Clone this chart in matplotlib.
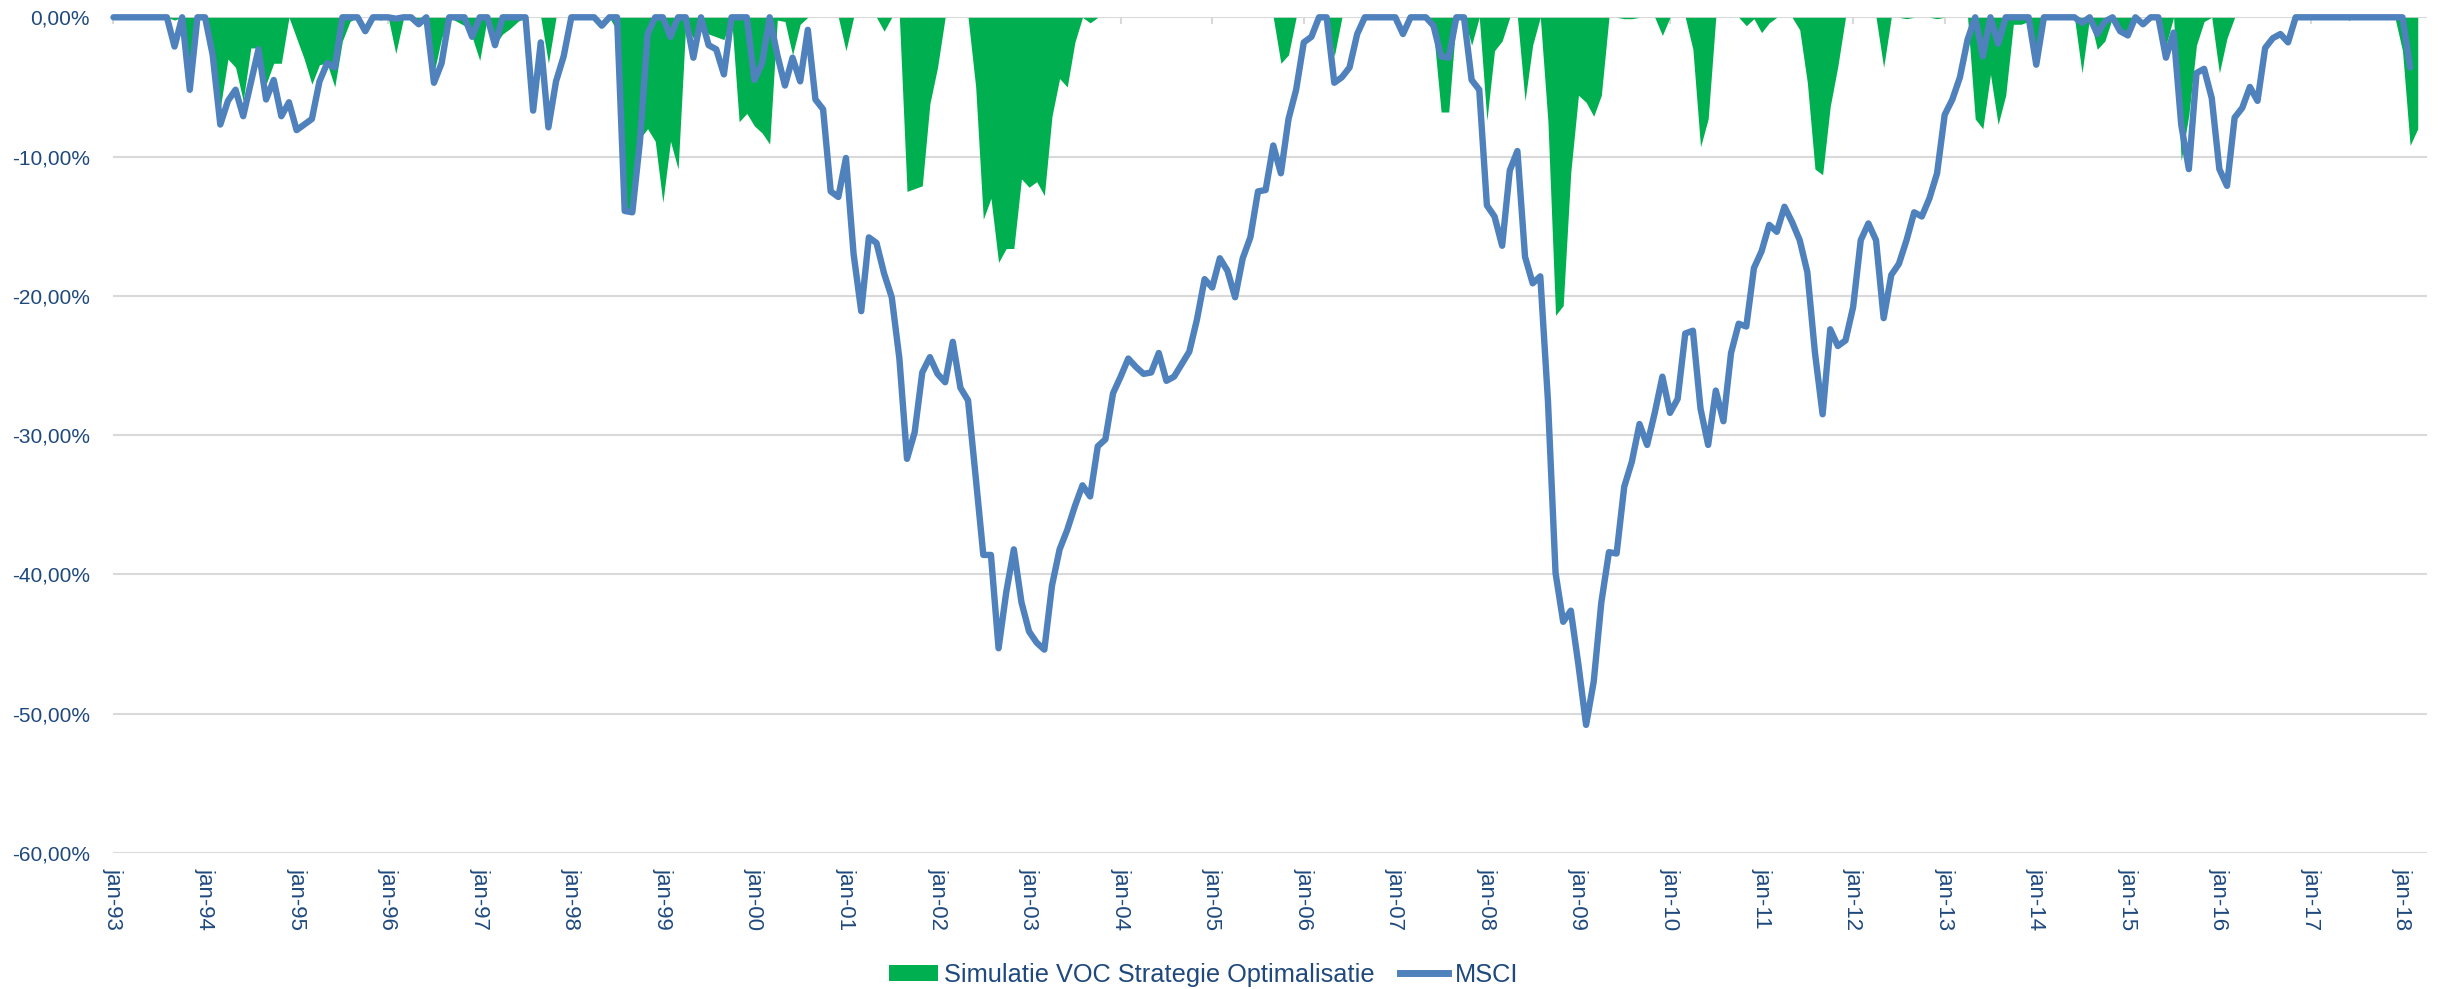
import matplotlib
matplotlib.use("Agg")
import matplotlib.pyplot as plt
from matplotlib import font_manager
from matplotlib.patches import Patch
from matplotlib.lines import Line2D
import numpy as np

# Drawdown per maand, jan-93 .. mrt-18 (in %)
msci = [
    0, 0, 0, 0, 0, 0, 0, 0, -2.1, 0, -5.2, 0,                                   # 1993
    0, -2.7, -7.7, -6.0, -5.2, -7.1, -4.7, -2.3, -5.9, -4.5, -7.1, -6.1,        # 1994
    -8.1, -7.7, -7.3, -4.6, -3.3, -3.6, 0, 0, 0, -1.0, 0, 0,                    # 1995
    0, -0.1, 0, 0, -0.5, 0, -4.7, -3.3, 0, 0, 0, -1.4,                          # 1996
    0, 0, -2.0, 0, 0, 0, 0, -6.7, -1.8, -7.9, -4.6, -2.8,                       # 1997
    0, 0, 0, 0, -0.6, 0, 0, -13.9, -14.0, -8.9, -1.2, 0,                        # 1998
    0, -1.4, 0, 0, -2.9, 0, -2.0, -2.3, -4.1, 0, 0, 0,                          # 1999
    -4.5, -3.3, 0, -2.7, -4.9, -2.9, -4.6, -0.9, -5.9, -6.6, -12.5, -12.9,      # 2000
    -10.1, -17.0, -21.1, -15.8, -16.2, -18.4, -20.1, -24.5, -31.7, -29.8, -25.5, -24.4,  # 2001
    -25.6, -26.2, -23.3, -26.6, -27.5, -33.0, -38.6, -38.6, -45.3, -41.3, -38.2, -42.0,  # 2002
    -44.1, -44.9, -45.4, -40.8, -38.2, -36.8, -35.1, -33.6, -34.4, -30.8, -30.3, -27.0,  # 2003
    -25.8, -24.5, -25.1, -25.6, -25.5, -24.1, -26.1, -25.8, -24.9, -24.0, -21.7, -18.8,  # 2004
    -19.4, -17.3, -18.2, -20.1, -17.3, -15.8, -12.5, -12.4, -9.2, -11.2, -7.3, -5.2,     # 2005
    -1.8, -1.4, 0, 0, -4.7, -4.3, -3.6, -1.2, 0, 0, 0, 0,                       # 2006
    0, -1.2, 0, 0, 0, -0.6, -2.8, -2.9, 0, 0, -4.5, -5.2,                       # 2007
    -13.5, -14.3, -16.4, -11.0, -9.6, -17.2, -19.1, -18.6, -27.5, -39.9, -43.4, -42.6,   # 2008
    -46.5, -50.8, -47.7, -42.0, -38.4, -38.5, -33.7, -31.9, -29.2, -30.7, -28.4, -25.8,  # 2009
    -28.4, -27.4, -22.7, -22.5, -28.1, -30.7, -26.8, -29.0, -24.1, -22.0, -22.2, -18.0,  # 2010
    -16.8, -14.9, -15.4, -13.6, -14.7, -16.0, -18.3, -24.1, -28.5, -22.4, -23.6, -23.2,  # 2011
    -20.8, -16.0, -14.8, -16.0, -21.6, -18.5, -17.7, -16.0, -14.0, -14.3, -13.0, -11.2,  # 2012
    -7.0, -5.9, -4.3, -1.6, 0, -2.8, 0, -1.9, 0, 0, 0, 0,                       # 2013
    -3.4, 0, 0, 0, 0, 0, -0.4, 0, -1.2, -0.3, 0, -1.0,                          # 2014
    -1.3, 0, -0.5, 0, 0, -2.9, -1.1, -7.7, -10.9, -4.0, -3.7, -5.8,             # 2015
    -10.9, -12.1, -7.2, -6.5, -5.0, -6.0, -2.2, -1.5, -1.2, -1.8, 0, 0,         # 2016
    0, 0, 0, 0, 0, 0, 0, 0, 0, 0, 0, 0,                                         # 2017
    0, -3.6,                                                                    # 2018
]

voc = [
    0, 0, 0, 0, 0, 0, 0, 0, -0.2, 0, -5.5, 0,                                   # 1993
    0, -2.5, -6.5, -3.0, -3.6, -6.0, -2.2, -2.2, -4.8, -3.3, -3.3, 0,           # 1994
    -1.5, -3.0, -4.8, -3.4, -3.3, -5.0, -1.7, -0.3, 0, 0, 0, -0.2,              # 1995
    0, -2.6, -0.1, 0, -0.6, 0, -4.0, -1.5, 0, -0.3, -0.6, -1.4,                 # 1996
    -3.1, 0, -2.0, -1.2, -0.8, -0.3, 0, 0, 0, -3.3, 0, 0,                       # 1997
    0, 0, 0, 0, 0, 0, -1.0, -14.1, -14.0, -8.7, -8.0, -8.9,                     # 1998
    -13.3, -8.9, -10.9, -0.5, -1.5, -0.3, -1.2, -1.4, -1.6, 0, -7.5, -6.9,      # 1999
    -7.8, -8.3, -9.1, -0.2, -0.3, -2.7, -0.5, 0, 0, 0, 0, 0,                    # 2000
    -2.4, 0, 0, 0, 0, -1.0, 0, 0, -12.5, -12.3, -12.1, -6.2,                    # 2001
    -3.6, 0, 0, 0, 0, -5.0, -14.5, -13.0, -17.6, -16.6, -16.6, -11.6,           # 2002
    -12.2, -11.8, -12.8, -7.1, -4.4, -5.0, -1.8, 0, -0.4, 0, 0, 0,              # 2003
    0, 0, 0, 0, 0, 0, 0, 0, 0, 0, 0, 0,                                         # 2004
    0, 0, 0, 0, 0, 0, 0, 0, 0, -3.3, -2.7, 0,                                   # 2005
    0, 0, 0, 0, -2.8, 0, 0, 0, 0, 0, 0, 0,                                      # 2006
    0, 0, 0, 0, 0, -1.0, -6.8, -6.8, 0, 0, -2.0, 0,                             # 2007
    -7.4, -2.4, -1.7, 0, 0, -6.0, -2.0, 0, -7.5, -21.4, -20.7, -11.1,           # 2008
    -5.6, -6.1, -7.1, -5.6, 0, 0, -0.1, -0.1, 0, 0, 0, -1.3,                    # 2009
    0, 0, 0, -2.3, -9.3, -7.3, 0, 0, 0, 0, -0.6, -0.1,                          # 2010
    -1.1, -0.4, 0, 0, 0, -0.9, -4.7, -10.9, -11.3, -6.4, -3.5, 0,               # 2011
    0, 0, 0, 0, -3.6, 0, 0, -0.1, 0, 0, 0, -0.1,                                # 2012
    0, 0, 0, 0, -7.3, -8.0, -4.1, -7.7, -5.6, -0.5, -0.5, -0.3,                 # 2013
    -3.2, 0, 0, 0, 0, 0, -4.0, 0, -2.3, -1.7, 0, -0.8,                          # 2014
    -1.2, 0, 0, 0, 0, -2.0, 0, -10.3, -7.0, -2.0, -0.3, 0,                      # 2015
    -4.0, -1.5, 0, 0, 0, 0, 0, 0, 0, 0, 0, 0,                                   # 2016
    0, 0, 0, 0, 0, -0.2, 0, 0, 0, 0, 0, 0,                                      # 2017
    -2.4, -9.2, -8.0,                                                           # 2018
]

years = list(range(1993, 2019))
tick_labels = [f"jan-{y % 100:02d}" for y in years]
y_ticks = [0, -10, -20, -30, -40, -50, -60]

GREEN = "#00B050"
BLUE = "#4F81BD"
TEXT = "#1F497D"
GRID = "#D9D9D9"

# smal lettertype voor de y-as en legenda als het er is
names = {f.name for f in font_manager.fontManager.ttflist}
if "Liberation Sans Narrow" in names:
    narrow, y_size, leg_size = "Liberation Sans Narrow", 18, 22
else:
    narrow, y_size, leg_size = "Liberation Sans", 15, 18.3

fig = plt.figure(figsize=(24.38, 9.89), dpi=100)
ax = fig.add_axes([0.04655, 0.1375, 0.9489, 0.8450])

x_voc = np.arange(len(voc))
x_msci = np.arange(len(msci))
ax.fill_between(x_voc, voc, 0, color=GREEN, linewidth=0, zorder=2)
ax.plot(x_msci, msci, color=BLUE, linewidth=4.6, solid_joinstyle="round",
        solid_capstyle="round", zorder=3, clip_on=False)

ax.set_xlim(0, 303.2)
ax.set_ylim(-60, 0)

ax.set_yticks(y_ticks)
ax.set_yticklabels([f"{v:.2f}%".replace(".", ",") for v in y_ticks],
                   fontfamily=narrow, fontsize=y_size, color=TEXT)
ax.tick_params(axis="y", length=0, pad=17)

ax.set_xticks([12 * i for i in range(len(years))])
ax.set_xticklabels(tick_labels, rotation=-90, fontfamily="Liberation Sans",
                   fontsize=16, color=TEXT, ha="center", va="top")
ax.tick_params(axis="x", bottom=False, top=True, labelbottom=True, labeltop=False,
               direction="in", length=5, width=1.5, color=GRID, pad=11)

ax.grid(axis="y", color=GRID, linewidth=1.5)
ax.set_axisbelow(True)
for s in ax.spines.values():
    s.set_visible(False)

handles = [Patch(facecolor=GREEN, edgecolor="none"),
           Line2D([0], [0], color=BLUE, linewidth=5)]
fig.legend(handles, ["Simulatie VOC Strategie Optimalisatie", "MSCI"],
           loc="center", bbox_to_anchor=(0.4937, 0.0142), ncol=2, frameon=False,
           prop={"family": narrow, "size": leg_size}, labelcolor=TEXT,
           handlelength=1.9, handleheight=0.6, handletextpad=0.25,
           columnspacing=1.0)

fig.savefig("out.png", dpi=100)
